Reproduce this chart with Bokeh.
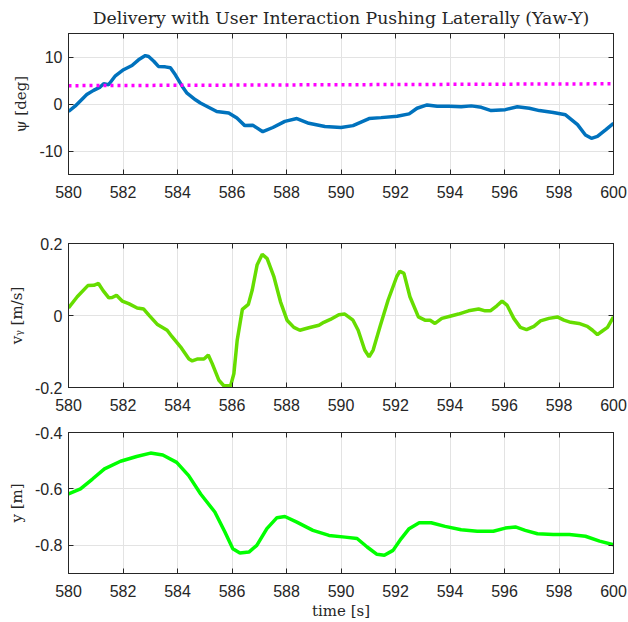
from bokeh.plotting import figure
from bokeh.models import LinearAxis, FixedTicker, Range1d
from bokeh.layouts import column
from bokeh.embed import file_html
from bokeh.resources import INLINE

# ---------------- data ----------------
t_psi = [580.0, 580.25, 580.67, 580.92, 581.16, 581.29, 581.47, 581.72, 582.02, 582.33,
         582.57, 582.82, 582.94, 583.13, 583.3, 583.55, 583.74, 583.92, 584.17, 584.35,
         584.66, 584.84, 585.44, 585.88, 586.18, 586.47, 586.76, 587.13, 587.5, 587.94,
         588.38, 588.82, 589.41, 590.0, 590.44, 591.03, 591.47, 592.06, 592.5, 592.79,
         593.16, 593.53, 593.97, 594.41, 594.78, 595.15, 595.51, 596.03, 596.47, 596.91,
         597.28, 597.79, 598.24, 598.68, 598.97, 599.19, 599.41, 599.71, 600.0]
psi = [-1.6, -0.4, 2.0, 2.9, 3.6, 4.3, 4.1, 6.0, 7.3, 8.2,
       9.4, 10.3, 10.1, 9.1, 8.0, 7.9, 7.7, 6.2, 3.8, 2.3,
       0.9, 0.2, -1.6, -1.9, -3.0, -4.6, -4.5, -5.9, -5.0, -3.7,
       -3.1, -4.1, -4.8, -5.0, -4.6, -3.1, -2.9, -2.6, -2.1, -0.9,
       -0.2, -0.5, -0.5, -0.6, -0.4, -0.7, -1.4, -1.2, -0.6, -0.9,
       -1.4, -1.8, -2.3, -4.4, -6.6, -7.3, -6.9, -5.5, -4.1]
t_ref = [580.0, 600.0]
psi_ref = [3.9, 4.3]

t_vy = [580.0, 580.32, 580.71, 580.93, 581.1, 581.27, 581.48, 581.6, 581.76, 581.97,
        582.21, 582.52, 582.76, 582.95, 583.25, 583.62, 583.8, 584.11, 584.42, 584.54,
        584.72, 584.97, 585.13, 585.27, 585.52, 585.7, 585.95, 586.07, 586.19, 586.38,
        586.6, 586.74, 586.92, 587.11, 587.29, 587.54, 587.78, 588.02, 588.27, 588.49,
        588.82, 589.19, 589.37, 589.61, 589.92, 590.14, 590.44, 590.63, 590.87, 591.03,
        591.18, 591.43, 591.73, 592.04, 592.16, 592.31, 592.53, 592.84, 593.08, 593.27,
        593.45, 593.7, 594.0, 594.31, 594.68, 595.05, 595.29, 595.48, 595.72, 595.91,
        596.09, 596.34, 596.58, 596.81, 597.08, 597.32, 597.63, 597.94, 598.18, 598.43,
        598.73, 599.04, 599.23, 599.41, 599.59, 599.78, 600.0]
vy = [0.021, 0.052, 0.083, 0.084, 0.089, 0.069, 0.049, 0.05, 0.056, 0.04,
      0.033, 0.021, 0.018, 0.001, -0.024, -0.041, -0.059, -0.087, -0.121, -0.126,
      -0.121, -0.121, -0.11, -0.133, -0.18, -0.195, -0.195, -0.161, -0.069, 0.017,
      0.031, 0.07, 0.14, 0.17, 0.158, 0.107, 0.038, -0.013, -0.033, -0.041,
      -0.034, -0.027, -0.019, -0.011, 0.002, 0.004, -0.013, -0.041, -0.096, -0.115,
      -0.096, -0.031, 0.043, 0.107, 0.123, 0.117, 0.052, -0.004, -0.013, -0.013,
      -0.022, -0.008, -0.002, 0.004, 0.013, 0.018, 0.013, 0.013, 0.027, 0.04,
      0.029, -0.008, -0.033, -0.039, -0.03, -0.015, -0.008, -0.004, -0.013, -0.019,
      -0.022, -0.03, -0.041, -0.053, -0.043, -0.033, -0.004]

t_y = [580.0, 580.44, 580.88, 581.32, 581.91, 582.5, 583.01, 583.46, 583.97, 584.41,
       584.85, 585.37, 585.74, 586.03, 586.29, 586.62, 586.91, 587.28, 587.65, 587.94,
       588.38, 588.97, 589.56, 590.15, 590.59, 590.96, 591.32, 591.59, 591.91, 592.21,
       592.5, 592.87, 593.31, 593.82, 594.41, 595.0, 595.59, 596.03, 596.4, 596.76,
       597.21, 597.79, 598.38, 598.97, 599.49, 600.0]
y_pos = [-0.618, -0.6, -0.565, -0.529, -0.502, -0.485, -0.473, -0.48, -0.506, -0.553,
         -0.618, -0.682, -0.753, -0.812, -0.827, -0.824, -0.8, -0.741, -0.702, -0.698,
         -0.718, -0.747, -0.765, -0.771, -0.776, -0.806, -0.832, -0.835, -0.818, -0.776,
         -0.741, -0.72, -0.72, -0.733, -0.745, -0.75, -0.75, -0.739, -0.735, -0.747,
         -0.759, -0.762, -0.762, -0.768, -0.785, -0.798]

x_ticks = list(range(580, 601, 2))
psi_ticks = [-10, 0, 10]
psi_labels = {-10: "-10", 0: "0", 10: "10"}
vy_ticks = [-0.2, 0, 0.2]
vy_labels = {-0.2: "-0.2", 0: "0", 0.2: "0.2"}
y_ticks = [-0.8, -0.6, -0.4]
y_labels = {-0.8: "-0.8", -0.6: "-0.6", -0.4: "-0.4"}
title_text = "Delivery with User Interaction Pushing Laterally (Yaw-Y)"
ylabel_psi = "\u03c8 [deg]"
ylabel_vy = "v\u1d67 [m/s]"
ylabel_y = "y [m]"
xlabel = "time [s]"

TICK_FONT = "Liberation Sans"
SERIF = "DejaVu Serif"
DARK = "#262626"
GRID = "#e3e3e3"


def make_fig(ylim, yticks, ylabels, ylabel, fh, top, bottom):
    p = figure(frame_width=545, frame_height=fh,
               min_border_left=68, min_border_right=15,
               min_border_top=top, min_border_bottom=bottom,
               x_range=Range1d(580, 600), y_range=Range1d(*ylim),
               output_backend="svg", toolbar_location=None,
               background_fill_color="white", border_fill_color="white")
    p.outline_line_color = DARK
    p.outline_line_width = 1
    xa = p.below[0]
    ya = p.left[0]
    for ax in (xa, ya):
        ax.major_tick_in = 5
        ax.major_tick_out = 0
        ax.minor_tick_line_color = None
        ax.axis_line_color = DARK
        ax.major_tick_line_color = DARK
        ax.major_label_text_font = TICK_FONT
        ax.major_label_text_font_size = "16px"
        ax.major_label_text_color = DARK
    xa.ticker = FixedTicker(ticks=x_ticks)
    ya.ticker = FixedTicker(ticks=yticks)
    xa.major_label_standoff = 11
    ya.major_label_standoff = 6
    ya.major_label_overrides = ylabels
    ya.axis_label = ylabel
    ya.axis_label_text_font = SERIF
    ya.axis_label_text_font_size = "15px"
    ya.axis_label_text_font_style = "normal"
    ya.axis_label_text_color = DARK
    ya.axis_label_standoff = 6
    # box ticks on top and right (no labels)
    ra = LinearAxis(ticker=FixedTicker(ticks=yticks), major_tick_in=5, major_tick_out=0,
                    minor_tick_line_color=None, major_label_text_color=None,
                    major_label_text_font_size="1px",
                    axis_line_color=DARK, major_tick_line_color=DARK, major_label_standoff=0)
    ta = LinearAxis(ticker=FixedTicker(ticks=x_ticks), major_tick_in=5, major_tick_out=0,
                    minor_tick_line_color=None, major_label_text_color=None,
                    major_label_text_font_size="1px",
                    axis_line_color=DARK, major_tick_line_color=DARK, major_label_standoff=0)
    p.add_layout(ra, "right")
    p.add_layout(ta, "above")
    p.xgrid.ticker = FixedTicker(ticks=x_ticks)
    p.ygrid.ticker = FixedTicker(ticks=yticks)
    for g in (p.xgrid[0], p.ygrid[0]):
        g.grid_line_color = GRID
        g.grid_line_width = 1
    return p


# Panel 1
p1 = make_fig((-15, 15), psi_ticks, psi_labels, ylabel_psi, 141, 33, 41)
p1.line(t_psi, psi, line_color="#0072BD", line_width=3.5)
p1.line(t_ref, psi_ref, line_color="#FF00FF", line_width=3.5, line_dash="3 4")
p1.title.text = title_text
p1.title.text_font = SERIF
p1.title.text_font_size = "17.3px"
p1.title.text_font_style = "normal"
p1.title.text_color = DARK
p1.title.align = "center"
p1.title.offset = 13
p1.title.standoff = 11

# Panel 2
p2 = make_fig((-0.2, 0.2), vy_ticks, vy_labels, ylabel_vy, 144, 28, 28)
p2.line(t_vy, vy, line_color="#66DD00", line_width=3.5)

# Panel 3
p3 = make_fig((-0.9, -0.4), y_ticks, y_labels, ylabel_y, 141, 17, 49)
p3.line(t_y, y_pos, line_color="#00FF00", line_width=3.5)
xl = p3.below[0]
xl.axis_label = xlabel
xl.axis_label_text_font = SERIF
xl.axis_label_text_font_size = "15px"
xl.axis_label_text_font_style = "normal"
xl.axis_label_text_color = DARK
xl.axis_label_standoff = 2

layout = column(p1, p2, p3, spacing=0)
open("out.html", "w").write(file_html(layout, INLINE))
